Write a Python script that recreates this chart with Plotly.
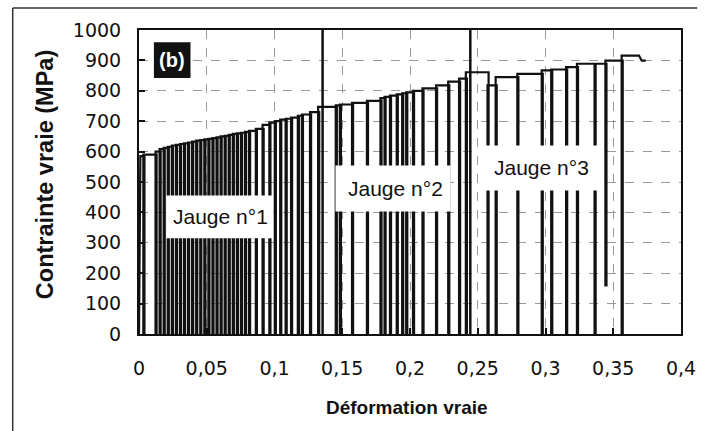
import plotly.graph_objects as go

# ---------------- data ----------------
start_strain = [0.0, 0.001]
start_stress = [0, 585]

cycle_strain = [0.004, 0.013, 0.016, 0.019, 0.022, 0.025, 0.028, 0.031, 0.034, 0.037,
                0.040, 0.043, 0.046, 0.049, 0.052, 0.055, 0.058, 0.061, 0.064, 0.067,
                0.070, 0.073, 0.076, 0.079, 0.082, 0.087, 0.092, 0.097, 0.101, 0.105,
                0.109, 0.113, 0.118, 0.121, 0.127, 0.133,
                0.146, 0.149, 0.158, 0.169, 0.179, 0.182, 0.186, 0.191, 0.195, 0.198,
                0.203, 0.210, 0.220, 0.229, 0.237, 0.242,
                0.258, 0.264, 0.280, 0.298, 0.305, 0.316, 0.324, 0.337, 0.345, 0.357]
cycle_peak = [590, 600, 608, 612, 616, 620, 622, 625, 627, 630,
              633, 636, 638, 640, 642, 644, 647, 650, 652, 655,
              658, 660, 662, 665, 668, 675, 688, 695, 700, 705,
              708, 712, 718, 722, 730, 747,
              752, 755, 760, 767, 776, 780, 784, 788, 792, 795,
              800, 808, 818, 830, 840, 861,
              818, 845, 856, 867, 870, 878, 889, 889, 899, 916]
cycle_min = [0] * 59 + [0, 160, 0]

end_strain = [0.369, 0.371, 0.374]
end_stress = [916, 899, 899]

gauge_limits = [0.1355, 0.2445]
gauge_labels = ["Jauge n°1", "Jauge n°2", "Jauge n°3"]
label_strain = [0.060, 0.189, 0.297]
label_stress = [386, 478, 548]
# label white boxes (strain0, strain1, stress0, stress1)
label_box = [(0.020, 0.099, 315, 456), (0.145, 0.230, 403, 554), (0.251, 0.343, 472, 620)]

x_ticks = [0, 0.05, 0.1, 0.15, 0.2, 0.25, 0.3, 0.35, 0.4]
x_ticktext = ["0", "0,05", "0,1", "0,15", "0,2", "0,25", "0,3", "0,35", "0,4"]
y_ticks = list(range(0, 1001, 100))

# ---------------- build the loading path ----------------
loop_gap = 0.0008
xs = list(start_strain)
ys = list(start_stress)
prev = start_stress[-1]
for e, p, m in zip(cycle_strain, cycle_peak, cycle_min):
    xs += [e, e, e - loop_gap, e - loop_gap]
    ys += [prev, m, m, p]
    prev = p
xs += end_strain
ys += end_stress

fig = go.Figure()
fig.add_trace(go.Scatter(x=xs, y=ys, mode="lines",
                         line=dict(color="#111111", width=2.2),
                         hoverinfo="skip", showlegend=False))

shapes = []
for g in gauge_limits:
    shapes.append(dict(type="line", xref="x", yref="paper", x0=g, x1=g, y0=0, y1=1,
                       line=dict(color="#111111", width=2.5), layer="above"))
for (a, b, c, d) in label_box:
    shapes.append(dict(type="rect", xref="x", yref="y", x0=a, x1=b, y0=c, y1=d,
                       fillcolor="white", line=dict(width=0), layer="above"))
# (b) badge
shapes.append(dict(type="rect", xref="x", yref="y", x0=0.011, x1=0.038, y0=842, y1=960,
                   fillcolor="#111111", line=dict(width=0), layer="above"))
# outer scan frame (top and left)
shapes.append(dict(type="line", xref="paper", yref="paper", x0=-0.233, x1=1.03, y0=1.072, y1=1.072,
                   line=dict(color="#333333", width=1.5)))
shapes.append(dict(type="line", xref="paper", yref="paper", x0=-0.233, x1=-0.233, y0=1.072, y1=-0.33,
                   line=dict(color="#333333", width=1.5)))

annotations = []
for t, xv, yv in zip(gauge_labels, label_strain, label_stress):
    annotations.append(dict(x=xv, y=yv, xref="x", yref="y", text=t, showarrow=False,
                            font=dict(family="Liberation Sans, Arial", size=21, color="#111111")))
annotations.append(dict(x=0.0245, y=901, xref="x", yref="y", text="<b>(b)</b>", showarrow=False,
                        font=dict(family="Liberation Sans, Arial", size=20, color="white")))
annotations.append(dict(x=-0.172, y=0.525, xref="paper", yref="paper", text="<b>Contrainte vraie (MPa)</b>",
                        textangle=-90, showarrow=False, xanchor="center", yanchor="middle",
                        font=dict(family="Liberation Sans, Arial", size=23.5, color="#111111")))
annotations.append(dict(x=0.494, y=-0.243, xref="paper", yref="paper", text="<b>Déformation vraie</b>",
                        showarrow=False, xanchor="center", yanchor="middle",
                        font=dict(family="Liberation Sans, Arial", size=19, color="#111111")))

axis_common = dict(showline=True, linecolor="#111111", linewidth=2, mirror=True,
                   ticks="inside", ticklen=6, tickcolor="#111111", tickwidth=1.5,
                   showgrid=True, gridcolor="#9a9a9a", griddash="dash", gridwidth=1,
                   zeroline=False,
                   tickfont=dict(family="DejaVu Sans", size=19, color="#111111"))

fig.update_layout(
    width=708, height=431,
    margin=dict(l=139, r=16, t=30, b=97),
    paper_bgcolor="white", plot_bgcolor="white",
    xaxis=dict(range=[0, 0.4], tickvals=x_ticks, ticktext=x_ticktext,
               ticklabelstandoff=16, **axis_common),
    yaxis=dict(range=[0, 1000], tickvals=y_ticks, ticklabelstandoff=12, **axis_common),
    shapes=shapes, annotations=annotations,
)

fig.write_html("out.html")
